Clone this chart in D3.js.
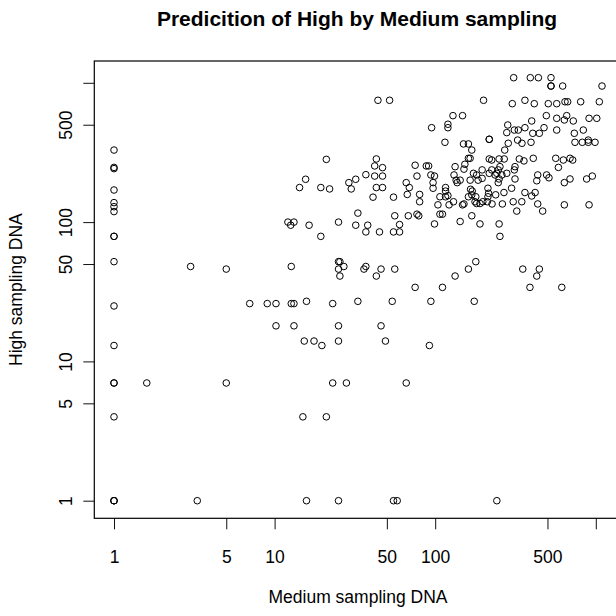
<!DOCTYPE html>
<html>
<head>
<meta charset="utf-8">
<script src="https://cdn.jsdelivr.net/npm/d3@7"></script>
<style>
  html, body { margin: 0; padding: 0; background: #fff; }
  svg { display: block; }
</style>
</head>
<body>
<div id="chart"></div>
<script>
// log axis ticks (the 1000 tick has no label)
const tickValues = [1, 5, 10, 50, 100, 500, 1000];
const tickLabels = ['1', '5', '10', '50', '100', '500', ''];

// Medium sampling DNA (x) and High sampling DNA (y)
const mediumDNA = [
  // medium = 1 column
  1, 1, 1, 1, 1, 1, 1, 1, 1, 1, 1, 1, 1, 1, 1, 1, 1, 1,
  // low left
  1.6, 3.0, 5.0, 12.7, 7.0, 9.0, 10.2, 12.7, 13.2, 10.2, 13.2, 5.0, 3.3, 15.8, 25, 55, 58, 242,
  // middle
  21, 43, 42, 47, 75, 15.6, 14.3, 19.4, 22, 29,
  32, 30, 37, 42, 47, 43, 47, 41, 55, 33,
  56, 60, 12.1, 13.2, 12.6, 16.4, 25, 32, 38, 37,
  45, 55, 60, 19.4, 25, 25.5, 25, 27, 25.5, 36,
  37, 43, 46, 56, 75, 15.8, 23, 33, 54, 25,
  46, 15.3, 17.6, 19.7, 25, 49, 23, 28, 15, 21,
  94, 175, 92, 66, 44, 52,
  // upper right cloud
  308, 391, 439, 526, 526, 526, 622, 1093, 200, 302,
  362, 414, 506, 571, 643, 668, 805, 1052, 129, 148,
  95, 120, 120, 492, 571, 637, 659, 571, 724, 908,
  1014, 283, 279, 311, 329, 362, 399, 405, 445, 476,
  735, 836, 115, 150, 161, 169, 217, 217, 285, 326,
  347, 395, 742, 824, 898, 898, 989, 271, 161, 165,
  217, 225, 250, 269, 334, 357, 408, 563, 628, 691,
  718, 585, 88, 91, 77, 94, 99, 133, 153, 151,
  131, 135, 173, 181, 196, 217, 225, 247, 253, 236,
  242, 260, 279, 314, 311, 314, 435, 429, 494, 511,
  637, 691, 877, 951, 66, 69, 67, 80, 80, 97,
  97, 116, 116, 107, 116, 120, 137, 143, 130, 122,
  104, 148, 151, 161, 169, 166, 170, 165, 185, 196,
  179, 177, 181, 190, 198, 211, 213, 215, 226, 238,
  262, 213, 247, 250, 299, 268, 306, 346, 362, 399,
  419, 322, 435, 467, 637, 908, 68, 77, 79, 107,
  111, 99, 143, 169, 190, 250, 253, 179, 161, 133,
  111, 351, 445, 429, 389, 614
];

const highDNA = [
  // medium = 1 column
  329, 247, 242, 170, 138, 129, 119, 79, 79, 52, 25, 13, 7, 7, 4, 1, 1, 1,
  // low left
  7, 48, 46, 48, 26, 26, 26, 26, 26, 18, 18, 7, 1, 1, 1, 1, 1, 1,
  // middle
  282, 284, 253, 246, 256, 203, 177, 177, 173, 192,
  203, 173, 219, 214, 214, 177, 177, 151, 151, 116,
  111, 96, 100, 100, 95, 95, 100, 95, 95, 85,
  85, 85, 85, 79, 52, 52, 46, 48, 41, 46,
  48, 41, 46, 46, 34, 27, 26, 27, 27, 18,
  18, 14, 14, 13, 14, 14, 7, 7, 4, 4,
  27, 27, 13, 7, 749, 749,
  // upper right cloud
  1088, 1088, 1088, 1088, 948, 948, 948, 948, 749, 708,
  749, 708, 708, 708, 731, 731, 731, 731, 581, 581,
  476, 504, 476, 581, 556, 541, 581, 458, 532, 556,
  556, 498, 439, 458, 458, 476, 532, 434, 434, 476,
  434, 458, 374, 364, 364, 329, 393, 393, 368, 388,
  368, 374, 374, 374, 388, 374, 374, 329, 287, 287,
  284, 279, 284, 284, 284, 275, 287, 287, 279, 287,
  279, 247, 253, 253, 214, 218, 214, 250, 260, 240,
  218, 200, 224, 218, 237, 224, 237, 237, 250, 218,
  224, 218, 224, 250, 237, 204, 218, 198, 218, 208,
  192, 204, 204, 214, 192, 177, 158, 158, 140, 192,
  175, 177, 167, 152, 152, 155, 192, 200, 140, 133,
  133, 133, 135, 152, 157, 172, 167, 200, 200, 206,
  152, 140, 136, 136, 140, 140, 152, 161, 135, 157,
  135, 175, 192, 204, 175, 163, 140, 140, 163, 154,
  163, 120, 135, 120, 133, 133, 111, 114, 111, 114,
  114, 97, 101, 111, 97, 97, 79, 52, 46, 41,
  34, 46, 46, 41, 34, 34
];

const width = 616;
const height = 616;
const box = { left: 94.3, right: 620, top: 61, bottom: 518.3 };
const font = '"Liberation Sans", Arial, Helvetica, sans-serif';

const points = mediumDNA.map((m, i) => ({ medium: m, high: highDNA[i] }));

const svg = d3
  .select('#chart')
  .append('svg')
  .attr('width', width)
  .attr('height', height);

svg.append('rect').attr('width', width).attr('height', height).attr('fill', '#fff');

const x = d3.scaleLog().domain([1, 1000]).range([114, 595.8]);
const y = d3.scaleLog().domain([1, 1000]).range([500.7, 82.8]);

// bottom axis
svg
  .append('g')
  .attr('transform', `translate(0,${box.bottom})`)
  .call(
    d3.axisBottom(x)
      .tickValues(tickValues)
      .tickFormat((d, i) => tickLabels[i])
      .tickSize(11)
  )
  .call(g => g.select('.domain').remove())
  .call(g => g.selectAll('.tick line').attr('stroke', '#111').attr('stroke-width', 1))
  .call(g => g.selectAll('text')
    .attr('y', 45)
    .attr('dy', null)
    .attr('fill', '#000')
    .style('font-family', font)
    .style('font-size', '17.5px'));

// left axis, labels rotated like R's las = 0
svg
  .append('g')
  .attr('transform', `translate(${box.left},0)`)
  .call(
    d3.axisLeft(y)
      .tickValues(tickValues)
      .tickFormat((d, i) => tickLabels[i])
      .tickSize(11)
  )
  .call(g => g.select('.domain').remove())
  .call(g => g.selectAll('.tick line').attr('stroke', '#111').attr('stroke-width', 1))
  .call(g => g.selectAll('text')
    .attr('x', 0)
    .attr('y', -22.6)
    .attr('dy', null)
    .attr('transform', 'rotate(-90)')
    .attr('text-anchor', 'middle')
    .attr('fill', '#000')
    .style('font-family', font)
    .style('font-size', '17.5px'));

// plot box
svg
  .append('rect')
  .attr('x', box.left)
  .attr('y', box.top)
  .attr('width', box.right - box.left)
  .attr('height', box.bottom - box.top)
  .attr('fill', 'none')
  .attr('stroke', '#000')
  .attr('stroke-width', 1.2);

// points
svg
  .selectAll('.dot')
  .data(points)
  .enter()
  .append('circle')
  .attr('class', 'dot')
  .attr('cx', d => x(d.medium))
  .attr('cy', d => y(d.high))
  .attr('r', 3.3)
  .attr('fill', 'none')
  .attr('stroke', '#000')
  .attr('stroke-width', 1);

// titles
svg
  .append('text')
  .attr('x', 357)
  .attr('y', 26)
  .attr('text-anchor', 'middle')
  .style('font-family', font)
  .style('font-size', '21px')
  .style('font-weight', 'bold')
  .text('Predicition of High by Medium sampling');

svg
  .append('text')
  .attr('x', 358)
  .attr('y', 603)
  .attr('text-anchor', 'middle')
  .style('font-family', font)
  .style('font-size', '17.5px')
  .text('Medium sampling DNA');

svg
  .append('text')
  .attr('transform', `translate(22,${(box.top + box.bottom) / 2}) rotate(-90)`)
  .attr('text-anchor', 'middle')
  .style('font-family', font)
  .style('font-size', '17.5px')
  .text('High sampling DNA');
</script>
</body>
</html>
